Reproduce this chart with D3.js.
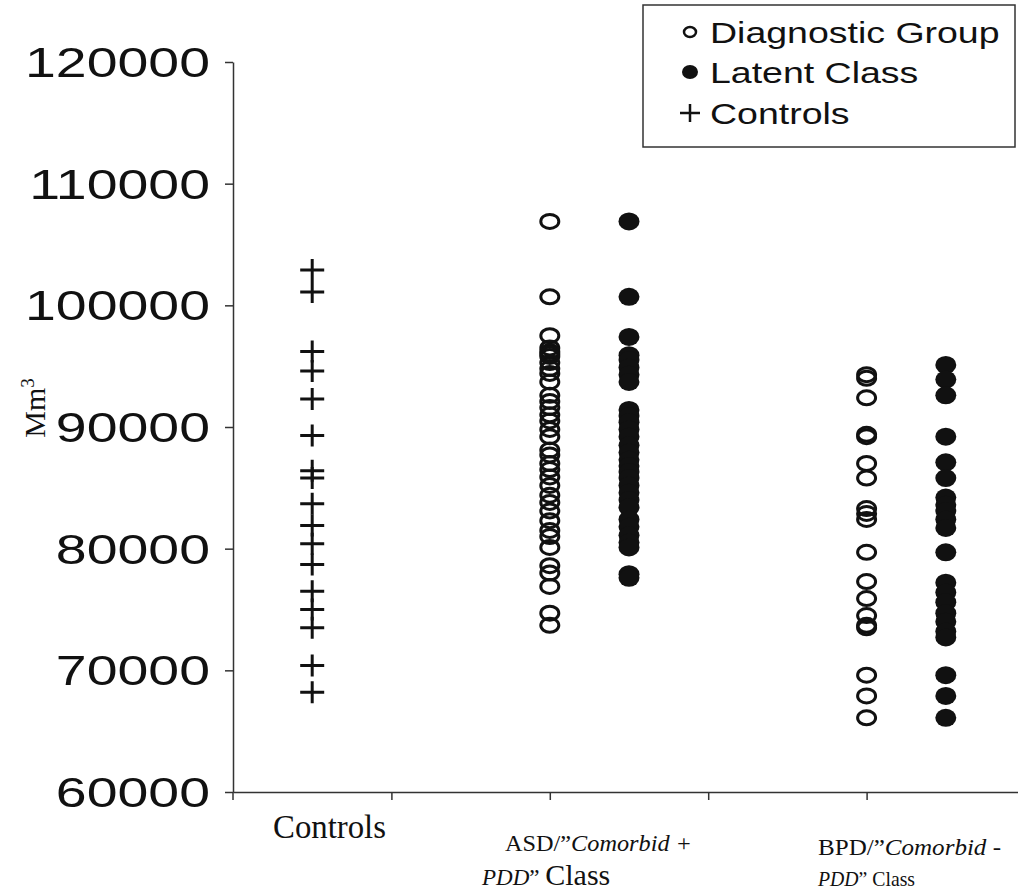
<!DOCTYPE html>
<html><head><meta charset="utf-8">
<script src="https://cdn.jsdelivr.net/npm/d3@7/dist/d3.min.js"></script>
<style>body{margin:0;background:#fff}</style>
</head><body>
<svg id="c" width="1018" height="892"></svg>
<script>
// ---- data ----
const yTickValues = [60000, 70000, 80000, 90000, 100000, 110000, 120000];
const xTickValues = [1, 2, 3, 4];
const legendLabels = ["Diagnostic Group", "Latent Class", "Controls"];
const controls = [102900, 101100, 96200, 94600, 92300, 89300, 86400, 85800, 83700, 81900, 80400, 78700, 76500, 75000, 73500, 70400, 68200];
const asdDiagnostic = [106900, 100700, 97500, 96500, 96200, 96000, 95800, 95300, 94800, 94400, 93700, 92600, 92100, 91600, 91000, 90500, 89800, 89200, 88100, 87700, 87000, 86500, 85900, 85200, 84400, 83800, 83100, 82300, 81500, 81000, 80100, 78600, 78000, 76900, 74700, 73700];
const asdLatent = [106900, 100700, 97400, 95900, 95500, 94900, 94300, 93700, 91400, 90900, 90400, 89800, 89200, 88500, 87900, 87300, 86800, 86300, 85800, 85200, 84600, 84000, 83400, 82400, 81800, 81100, 80500, 80100, 77900, 77600];
const bpdDiagnostic = [94300, 94000, 92400, 89400, 89200, 87000, 85800, 83300, 82900, 82400, 79700, 77300, 75900, 74500, 73700, 73500, 69600, 67900, 66100];
const bpdLatent = [95100, 93900, 92600, 89200, 87100, 85800, 84200, 83600, 83100, 82400, 81700, 79700, 77200, 76400, 75600, 74700, 74000, 73200, 72700, 69600, 67900, 66100];
const positions = { controls: 0.5, asdDiagnostic: 2, asdLatent: 2.5, bpdDiagnostic: 4, bpdLatent: 4.5 };

// ---- chart ----
const svg = d3.select("#c");
const x = d3.scaleLinear().domain([0, 5]).range([233, 1025]);
const y = d3.scaleLinear().domain([60000, 120000]).range([792, 62]);
const ink = "#111";
const serif = "Liberation Serif, Times New Roman, serif";
const sans = "Liberation Sans, Arial, sans-serif";

// axes
const gy = svg.append("g").attr("transform", "translate(233,0)")
  .call(d3.axisLeft(y).tickValues(yTickValues).tickSize(8).tickSizeOuter(0).tickFormat(""));
gy.selectAll("path,line").attr("stroke", "#333").attr("stroke-width", 1.5);
const gx = svg.append("g").attr("transform", "translate(0,792)")
  .call(d3.axisBottom(x).tickValues(xTickValues).tickSize(8).tickSizeOuter(0).tickFormat(""));
gx.selectAll("path,line").attr("stroke", "#333").attr("stroke-width", 1.5);
svg.append("line").attr("x1", 233).attr("x2", 233).attr("y1", 792).attr("y2", 800)
  .attr("stroke", "#333").attr("stroke-width", 1.5);

// y tick labels
svg.append("g").selectAll("text").data(yTickValues).join("text")
  .attr("transform", d => `translate(210,${y(d)}) scale(1.32,1)`)
  .attr("text-anchor", "end").attr("dominant-baseline", "central")
  .attr("font-family", sans).attr("font-size", 42)
  .attr("fill", ink).text(d => d3.format("d")(d));

// y label
const yl = svg.append("text").attr("transform", "translate(45,408) rotate(-90)")
  .attr("text-anchor", "middle").attr("font-family", serif)
  .attr("font-size", 30).attr("fill", ink);
yl.append("tspan").text("Mm");
yl.append("tspan").attr("font-size", 19).attr("dy", -11).text("3");

// markers
function openCircles(data, pos) {
  svg.append("g").selectAll("ellipse").data(data).join("ellipse")
    .attr("cx", x(pos)).attr("cy", d => y(d)).attr("rx", 9).attr("ry", 7)
    .attr("fill", "none").attr("stroke", ink).attr("stroke-width", 3);
}
function filledCircles(data, pos) {
  svg.append("g").selectAll("ellipse").data(data).join("ellipse")
    .attr("cx", x(pos)).attr("cy", d => y(d)).attr("rx", 10.5).attr("ry", 9)
    .attr("fill", ink);
}
openCircles(asdDiagnostic, positions.asdDiagnostic);
filledCircles(asdLatent, positions.asdLatent);
openCircles(bpdDiagnostic, positions.bpdDiagnostic);
filledCircles(bpdLatent, positions.bpdLatent);
svg.append("g").selectAll("path").data(controls).join("path")
  .attr("d", d => { const cx = x(positions.controls), cy = y(d);
    return `M${cx-12},${cy}H${cx+12}M${cx},${cy-11}V${cy+11}`; })
  .attr("stroke", ink).attr("stroke-width", 3).attr("fill", "none");

// x category labels
svg.append("text").attr("x", 273).attr("y", 838).attr("font-family", serif)
  .attr("font-size", 33).attr("textLength", 113).attr("lengthAdjust", "spacingAndGlyphs")
  .attr("fill", ink).text("Controls");
const a1 = svg.append("text").attr("x", 505).attr("y", 851).attr("font-family", serif).attr("font-size", 23)
  .attr("textLength", 187).attr("lengthAdjust", "spacingAndGlyphs").attr("fill", ink);
a1.append("tspan").text("ASD/\u201D");
a1.append("tspan").attr("font-style", "italic").text("Comorbid +");
const a2 = svg.append("text").attr("x", 482).attr("y", 885).attr("font-family", serif).attr("font-size", 23).attr("fill", ink);
a2.append("tspan").attr("font-style", "italic").text("PDD");
a2.append("tspan").text("\u201D ");
a2.append("tspan").attr("font-size", 30).text("Class");
const b1 = svg.append("text").attr("x", 818).attr("y", 855).attr("font-family", serif).attr("font-size", 23)
  .attr("textLength", 183).attr("lengthAdjust", "spacingAndGlyphs").attr("fill", ink);
b1.append("tspan").text("BPD/\u201D");
b1.append("tspan").attr("font-style", "italic").text("Comorbid -");
const b2 = svg.append("text").attr("x", 818).attr("y", 886).attr("font-family", serif).attr("font-size", 21)
  .attr("textLength", 97).attr("lengthAdjust", "spacingAndGlyphs").attr("fill", ink);
b2.append("tspan").attr("font-style", "italic").text("PDD");
b2.append("tspan").text("\u201D Class");

// legend
const lg = svg.append("g");
lg.append("rect").attr("x", 643).attr("y", 5).attr("width", 372).attr("height", 142)
  .attr("fill", "#fff").attr("stroke", "#333").attr("stroke-width", 1.5);
const rowsY = [32, 72, 113];
lg.append("ellipse").attr("cx", 690).attr("cy", rowsY[0]).attr("rx", 6).attr("ry", 5)
  .attr("fill", "none").attr("stroke", ink).attr("stroke-width", 2.5);
lg.append("ellipse").attr("cx", 690).attr("cy", rowsY[1]).attr("rx", 8).attr("ry", 7).attr("fill", ink);
lg.append("path").attr("d", `M680,${rowsY[2]}H700M690,${rowsY[2]-9}V${rowsY[2]+9}`)
  .attr("stroke", ink).attr("stroke-width", 2.5);
lg.selectAll("text.l").data(legendLabels).join("text").attr("class", "l")
  .attr("transform", (d, i) => `translate(710,${rowsY[i]}) scale(1.25,1)`)
  .attr("dominant-baseline", "central")
  .attr("font-family", sans).attr("font-size", 30)
  .attr("fill", ink).text(d => d);
</script>
</body></html>
